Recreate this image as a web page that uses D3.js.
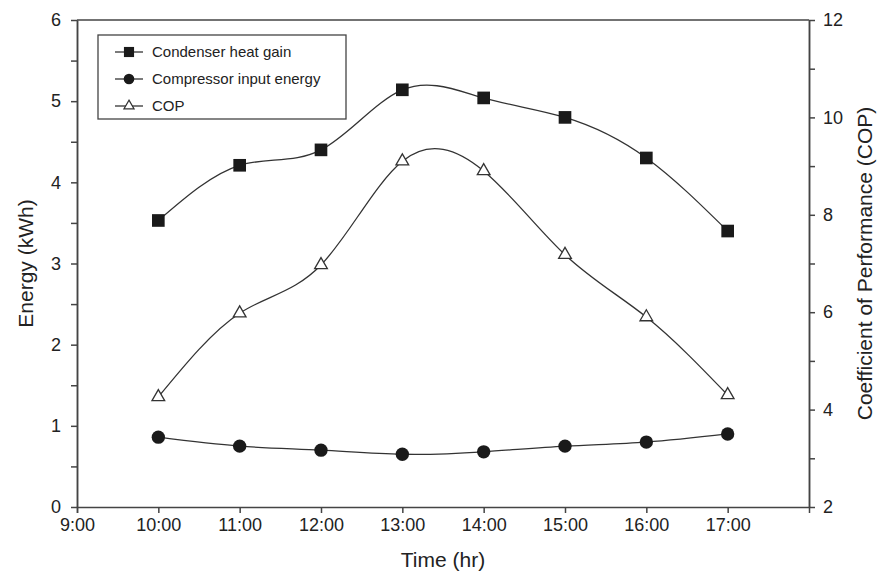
<!DOCTYPE html>
<html>
<head>
<meta charset="utf-8">
<script src="https://cdn.jsdelivr.net/npm/d3@7"></script>
<style>
  body { margin: 0; background: #fff; }
  text { font-family: Arial, "Liberation Sans", sans-serif; fill: #222; }
  .axis path, .axis line { stroke: #444; stroke-width: 1.5; }
  .axis text { font-size: 18px; }
</style>
</head>
<body>
<svg width="878" height="574"></svg>
<script>
// hours of the day (10:00 .. 17:00)
const hours = [10, 11, 12, 13, 14, 15, 16, 17];
const condenser = [3.53, 4.21, 4.40, 5.14, 5.04, 4.80, 4.30, 3.40];
const compressor = [0.86, 0.75, 0.70, 0.65, 0.68, 0.75, 0.80, 0.90];
const cop = [4.26, 5.98, 6.97, 9.10, 8.90, 7.18, 5.90, 4.30];
const xTicks = [9, 10, 11, 12, 13, 14, 15, 16, 17];
const leftTicks = [0, 1, 2, 3, 4, 5, 6];
const rightTicks = [2, 4, 6, 8, 10, 12];

let svg = d3.select("svg"),
  margin = { top: 20, right: 69, bottom: 67, left: 77 },
  width = +svg.attr("width") - margin.left - margin.right,
  height = +svg.attr("height") - margin.top - margin.bottom;

let x = d3.scaleLinear().domain([9, 18]).range([0, width]),
  y = d3.scaleLinear().domain([0, 6]).range([height, 0]),
  y2 = d3.scaleLinear().domain([2, 12]).range([height, 0]);

let g = svg.append("g")
  .attr("transform", "translate(" + margin.left + "," + margin.top + ")");

// top frame line
g.append("line")
  .attr("x1", 0).attr("x2", width).attr("y1", 0).attr("y2", 0)
  .attr("stroke", "#444").attr("stroke-width", 1.5);

// bottom axis
g.append("g")
  .attr("class", "axis")
  .attr("transform", "translate(0," + height + ")")
  .call(d3.axisBottom(x).tickValues(xTicks).tickSizeOuter(0).tickSize(6).tickPadding(5)
    .tickFormat(function (d) { return d + ":00"; }));

// left axis with minor ticks
g.append("g")
  .attr("class", "axis")
  .call(d3.axisLeft(y).tickValues(d3.range(0.5, 6, 1)).tickSize(6).tickFormat("").tickSizeOuter(0));
g.append("g")
  .attr("class", "axis")
  .call(d3.axisLeft(y).tickValues(leftTicks).tickSize(6).tickPadding(10).tickSizeOuter(0)
    .tickFormat(d3.format("d")));

// right axis with minor ticks
g.append("g")
  .attr("class", "axis")
  .attr("transform", "translate(" + width + ",0)")
  .call(d3.axisRight(y2).tickValues([3, 5, 7, 9, 11]).tickSize(6).tickFormat("").tickSizeOuter(0));
g.append("g")
  .attr("class", "axis")
  .attr("transform", "translate(" + width + ",0)")
  .call(d3.axisRight(y2).tickValues(rightTicks).tickSize(6).tickPadding(8).tickSizeOuter(0)
    .tickFormat(d3.format("d")));

// axis titles
svg.append("text")
  .attr("transform", "translate(33," + (margin.top + height / 2) + ") rotate(-90)")
  .attr("text-anchor", "middle")
  .style("font-size", "21px")
  .text("Energy (kWh)");

svg.append("text")
  .attr("x", margin.left + x(13.5)).attr("y", 567)
  .attr("text-anchor", "middle")
  .style("font-size", "21px")
  .text("Time (hr)");

svg.append("text")
  .attr("transform", "translate(872," + (margin.top + height / 2) + ") rotate(-90)")
  .attr("text-anchor", "middle")
  .style("font-size", "21px")
  .text("Coefficient of Performance (COP)");

// lines
let lineL = d3.line().curve(d3.curveNatural)
  .x(function (d) { return x(d[0]); })
  .y(function (d) { return y(d[1]); });
let lineR = d3.line().curve(d3.curveNatural)
  .x(function (d) { return x(d[0]); })
  .y(function (d) { return y2(d[1]); });

let condData = d3.zip(hours, condenser),
  compData = d3.zip(hours, compressor),
  copData = d3.zip(hours, cop);

[[condData, lineL], [compData, lineL], [copData, lineR]].forEach(function (p) {
  g.append("path")
    .datum(p[0])
    .attr("fill", "none")
    .attr("stroke", "#333")
    .attr("stroke-width", 1.3)
    .attr("d", p[1]);
});

// markers
let sq = d3.symbol().type(d3.symbolSquare).size(160),
  ci = d3.symbol().type(d3.symbolCircle).size(140),
  tri = d3.symbol().type(d3.symbolTriangle).size(70);

g.selectAll(".sq").data(condData).enter().append("path")
  .attr("d", sq)
  .attr("transform", function (d) { return "translate(" + x(d[0]) + "," + y(d[1]) + ")"; })
  .attr("fill", "#1a1a1a");

g.selectAll(".ci").data(compData).enter().append("path")
  .attr("d", ci)
  .attr("transform", function (d) { return "translate(" + x(d[0]) + "," + y(d[1]) + ")"; })
  .attr("fill", "#1a1a1a");

g.selectAll(".tri").data(copData).enter().append("path")
  .attr("d", tri)
  .attr("transform", function (d) { return "translate(" + x(d[0]) + "," + y2(d[1]) + ")"; })
  .attr("fill", "#fff")
  .attr("stroke", "#333")
  .attr("stroke-width", 1.3);

// legend
let legend = svg.append("g");
legend.append("rect")
  .attr("x", 98).attr("y", 35).attr("width", 248).attr("height", 84)
  .attr("fill", "#fff").attr("stroke", "#444").attr("stroke-width", 1.3);

let items = [
  { name: "Condenser heat gain", sym: sq, fill: "#1a1a1a" },
  { name: "Compressor input energy", sym: ci, fill: "#1a1a1a" },
  { name: "COP", sym: tri, fill: "#fff" }
];
items.forEach(function (it, i) {
  let yy = 52 + i * 27;
  legend.append("line")
    .attr("x1", 115).attr("x2", 143).attr("y1", yy).attr("y2", yy)
    .attr("stroke", "#333").attr("stroke-width", 1.3);
  legend.append("path")
    .attr("d", it.sym)
    .attr("transform", "translate(129," + yy + ") scale(0.8)")
    .attr("fill", it.fill)
    .attr("stroke", it.fill === "#fff" ? "#333" : "none")
    .attr("stroke-width", 1.5);
  legend.append("text")
    .attr("x", 152).attr("y", yy + 5)
    .style("font-size", "15px")
    .text(it.name);
});
</script>
</body>
</html>
